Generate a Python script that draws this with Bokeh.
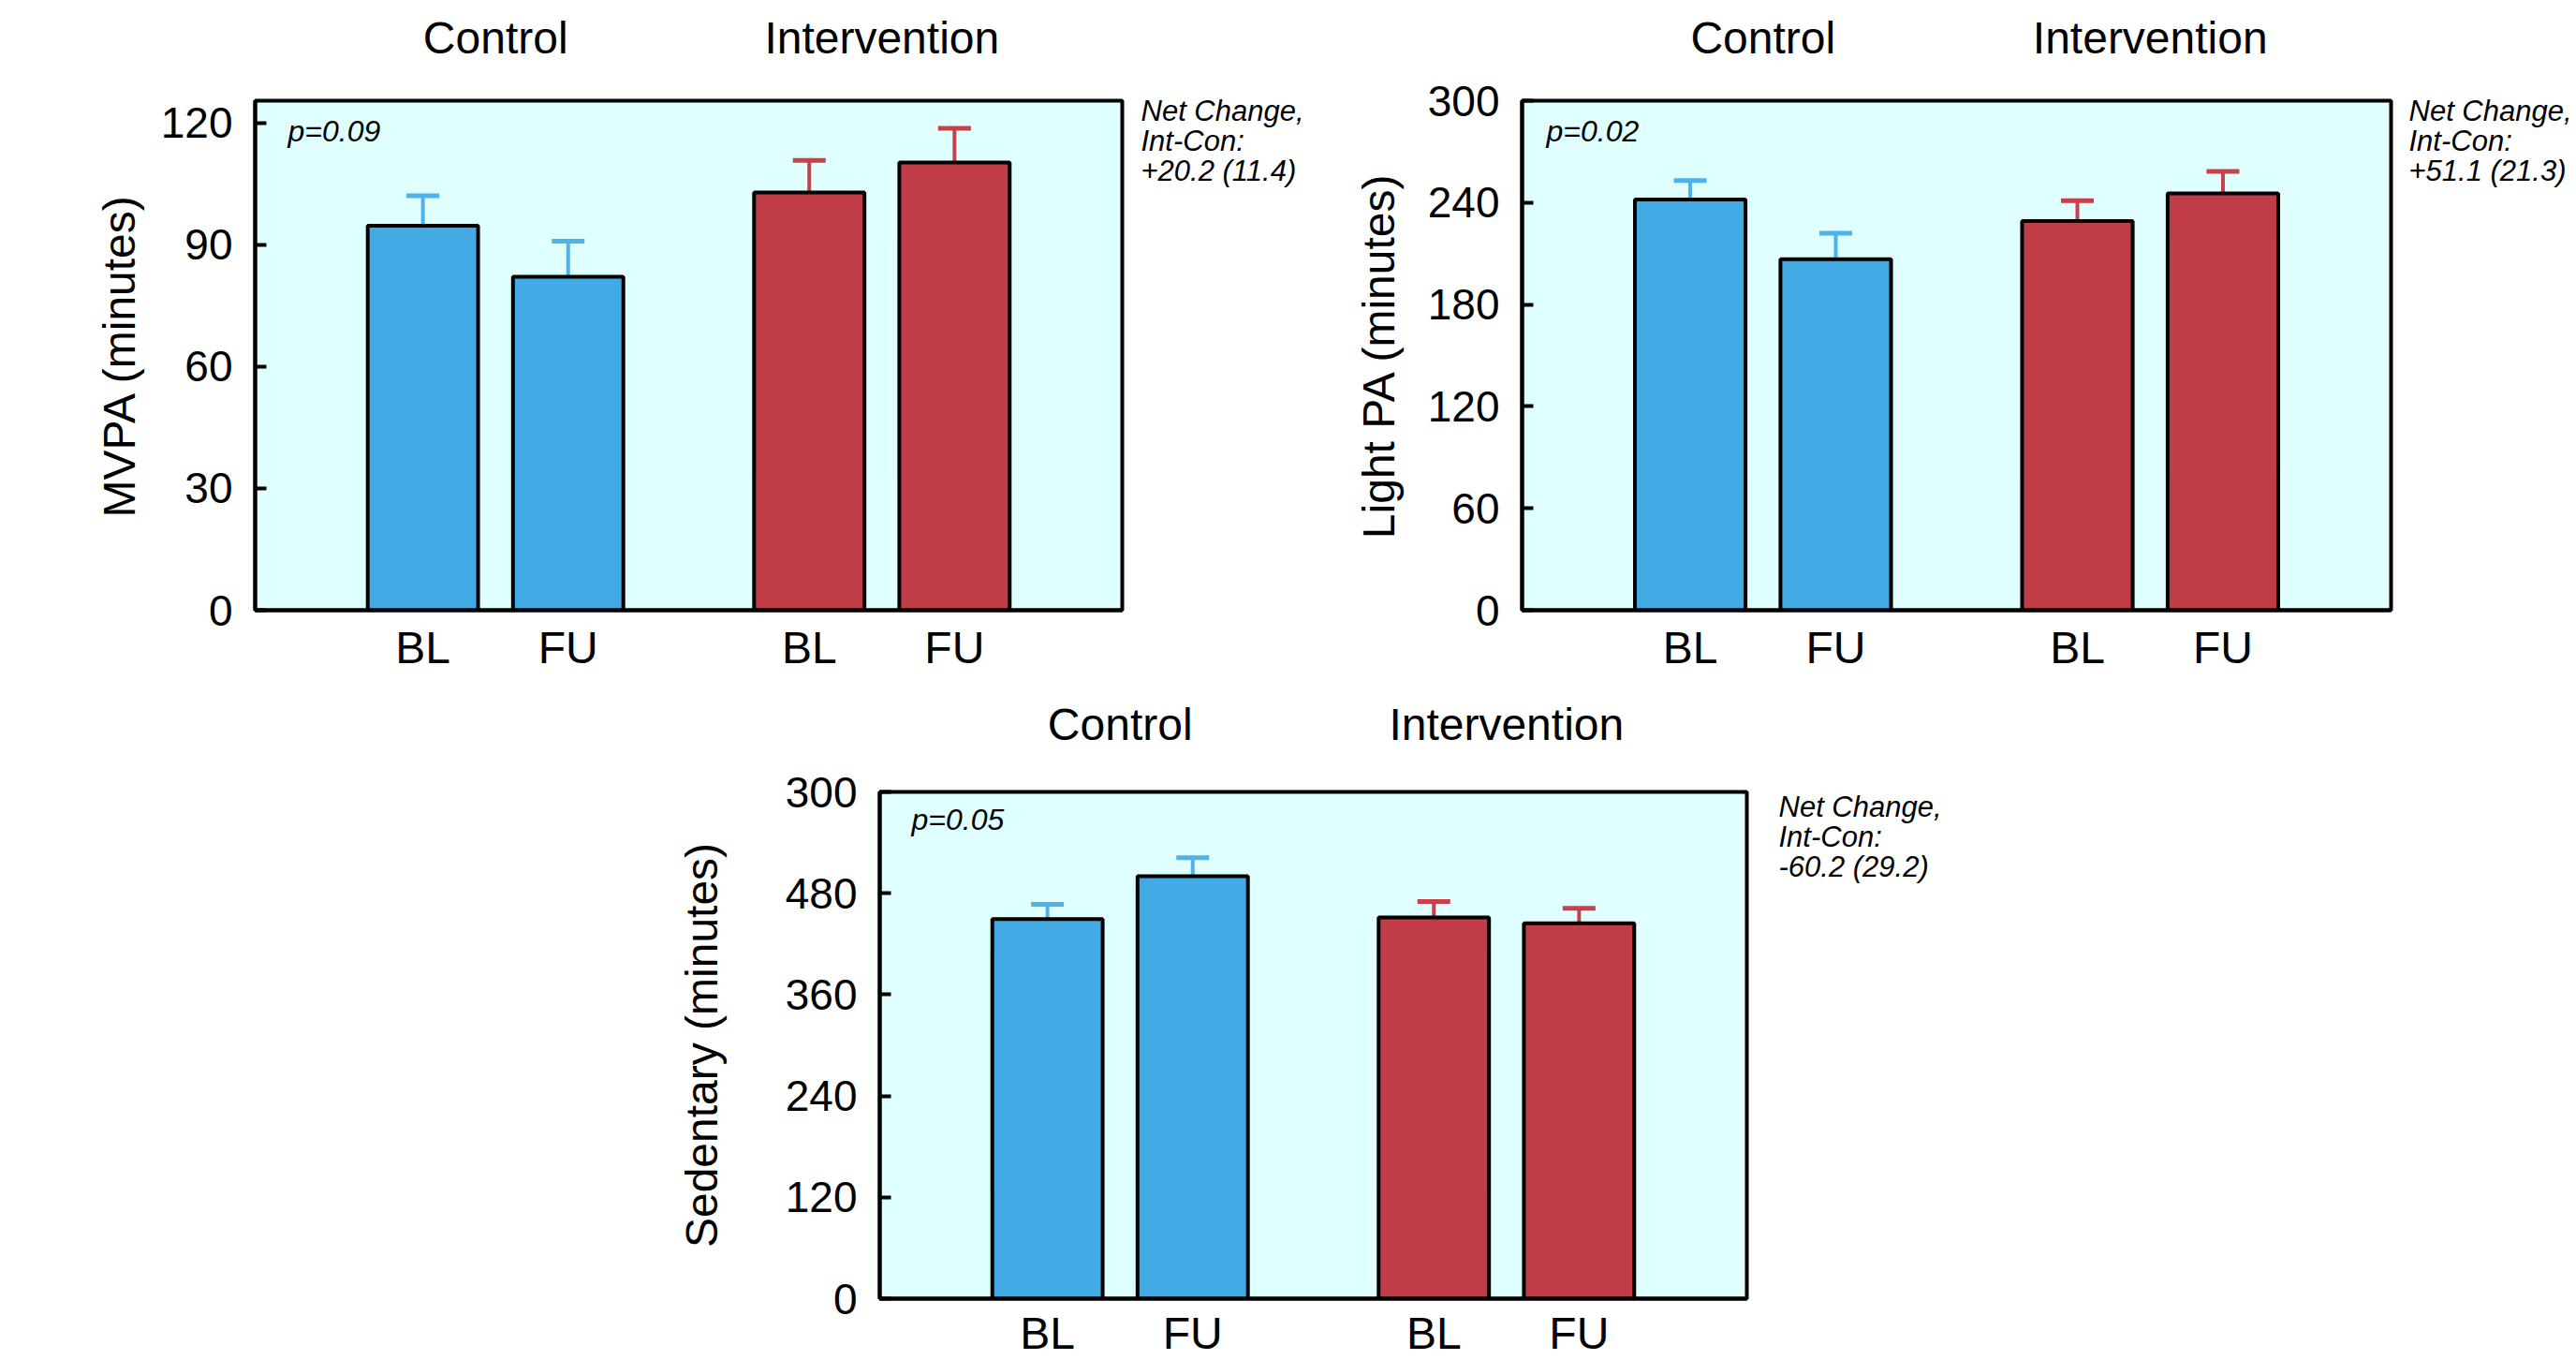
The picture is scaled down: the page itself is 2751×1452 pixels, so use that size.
from bokeh.plotting import figure
from bokeh.models import (FactorRange, Range1d, CategoricalAxis, LinearAxis, FixedTicker,
                          Label, Whisker, TeeHead, ColumnDataSource, Spacer)
from bokeh.layouts import column, row
from bokeh.embed import file_html
from bokeh.resources import INLINE

# ---------------- data ----------------
groups = ["Control", "Intervention"]
times = ["BL", "FU"]

mvpa_mean = [94.7, 82.1, 102.9, 110.3]
mvpa_err = [7.4, 8.8, 7.9, 8.4]
mvpa_ticks = [0, 30, 60, 90, 120]
mvpa_tick_labels = ["0", "30", "60", "90", "120"]

light_mean = [241.8, 206.7, 229.1, 245.4]
light_err = [11.2, 15.3, 12.0, 13.0]
light_ticks = [0, 60, 120, 180, 240, 300]
light_tick_labels = ["0", "60", "120", "180", "240", "300"]

sed_mean = [449.5, 500.3, 451.5, 444.4]
sed_err = [17.3, 21.9, 18.8, 17.8]
sed_ticks = [0, 120, 240, 360, 480, 600]
sed_tick_labels = ["0", "120", "240", "360", "480", "300"]

p_values = ["p=0.09", "p=0.02", "p=0.05"]
net_lines = [["Net Change,", "Int-Con:", "+20.2 (11.4)"],
             ["Net Change,", "Int-Con:", "+51.1 (21.3)"],
             ["Net Change,", "Int-Con:", "-60.2 (29.2)"]]

# ---------------- style ----------------
FONT = "Liberation Sans"
group_colors = ["#41AAE4", "#C03D47"]
err_colors = ["#4DB3EA", "#C8404A"]
BG = "#E0FFFF"


def make_panel(ylabel, means, errs, y_end, ticks, tick_labels, pval, net,
               w, h, bl, br, bt, bb, ylab_standoff, net_dx, p_dx,
               net_top_px, group_standoff, cat_standoff):
    factors = [(g, t) for g in groups for t in times]
    xr = FactorRange(*factors, group_padding=0.66, range_padding=0.655,
                     range_padding_units="absolute")
    p = figure(x_range=xr, y_range=Range1d(0, y_end), width=w, height=h,
               output_backend="svg", toolbar_location=None,
               min_border_left=bl, min_border_right=br,
               min_border_top=bt, min_border_bottom=bb)
    p.background_fill_color = BG
    p.border_fill_color = "white"
    p.outline_line_color = "black"
    p.outline_line_width = 4
    p.outline_line_alpha = 1
    p.xgrid.visible = False
    p.ygrid.visible = False

    colors = [group_colors[groups.index(f[0])] for f in factors]
    src = ColumnDataSource(dict(x=factors, top=means, color=colors))
    p.vbar(x="x", top="top", bottom=0, width=0.76, source=src,
           fill_color="color", line_color="black", line_width=4)

    for g, ec in zip(groups, err_colors):
        idx = [i for i, f in enumerate(factors) if f[0] == g]
        s = ColumnDataSource(dict(x=[factors[i] for i in idx],
                                  top=[means[i] for i in idx],
                                  upper=[means[i] + errs[i] for i in idx]))
        wsk = Whisker(source=s, base="x", lower="top", upper="upper",
                      dimension="height", line_color=ec, line_width=4,
                      upper_head=TeeHead(size=35, line_color=ec, line_width=5),
                      lower_head=None, level="underlay")
        p.add_layout(wsk)

    # y axis
    yax = p.yaxis[0]
    yax.ticker = FixedTicker(ticks=ticks)
    yax.major_label_overrides = {t: l for t, l in zip(ticks, tick_labels)}
    yax.minor_tick_line_color = None
    yax.major_tick_in = 12
    yax.major_tick_out = 0
    yax.major_tick_line_width = 4
    yax.major_tick_line_color = "black"
    yax.axis_line_width = 4
    yax.axis_line_color = "black"
    yax.major_label_text_font = FONT
    yax.major_label_text_font_size = "46px"
    yax.major_label_text_color = "black"
    yax.major_label_standoff = 24
    yax.axis_label = ylabel
    yax.axis_label_text_font = FONT
    yax.axis_label_text_font_size = "48px"
    yax.axis_label_text_font_style = "normal"
    yax.axis_label_text_color = "black"
    yax.axis_label_standoff = ylab_standoff

    # bottom categorical axis (BL / FU)
    xax = p.xaxis[0]
    xax.major_label_text_font = FONT
    xax.major_label_text_font_size = "48px"
    xax.major_label_text_color = "black"
    xax.major_label_standoff = cat_standoff
    xax.major_tick_line_color = None
    xax.minor_tick_line_color = None
    xax.axis_line_width = 4
    xax.axis_line_color = "black"
    xax.separator_line_color = None
    xax.group_text_font_size = "1px"
    xax.group_text_alpha = 0

    # top axis carrying the group names
    top = CategoricalAxis()
    top.major_label_text_font_size = "1px"
    top.major_label_text_alpha = 0
    top.major_label_standoff = group_standoff
    top.group_text_font = FONT
    top.group_text_font_size = "48px"
    top.group_text_font_style = "normal"
    top.group_text_color = "black"
    top.axis_line_color = None
    top.major_tick_line_color = None
    top.minor_tick_line_color = None
    top.separator_line_color = None
    p.add_layout(top, "above")

    fh = h - bt - bb
    per_px = y_end / fh
    # net change note, written as the labels of a right-hand axis
    net_y = [y_end - (net_top_px + k * 32) * per_px for k in range(len(net))]
    rax = LinearAxis(ticker=FixedTicker(ticks=net_y),
                     major_label_overrides={v: t for v, t in zip(net_y, net)})
    rax.axis_line_color = None
    rax.major_tick_line_color = None
    rax.minor_tick_line_color = None
    rax.major_label_standoff = net_dx
    rax.major_label_text_font = FONT
    rax.major_label_text_font_size = "31px"
    rax.major_label_text_font_style = "italic"
    rax.major_label_text_color = "black"
    p.add_layout(rax, "right")

    p.add_layout(Label(x=p_dx, y=fh - 32, x_units="screen", y_units="screen",
                       text=pval, text_font=FONT, text_font_size="32px",
                       text_font_style="italic", text_baseline="middle",
                       text_color="black"))
    return p


p1 = make_panel("MVPA (minutes)", mvpa_mean, mvpa_err, 125.5, mvpa_ticks,
                mvpa_tick_labels, p_values[0], net_lines[0],
                w=1405, h=720, bl=272, br=207, bt=107, bb=69,
                ylab_standoff=15, net_dx=14, p_dx=35, net_top_px=11,
                group_standoff=35, cat_standoff=7)
p2 = make_panel("Light PA (minutes)", light_mean, light_err, 300, light_ticks,
                light_tick_labels, p_values[1], net_lines[1],
                w=1346, h=720, bl=220, br=198, bt=107, bb=69,
                ylab_standoff=23, net_dx=13, p_dx=26, net_top_px=11,
                group_standoff=35, cat_standoff=7)
p3 = make_panel("Sedentary (minutes)", sed_mean, sed_err, 600, sed_ticks,
                sed_tick_labels, p_values[2], net_lines[2],
                w=1446, h=732, bl=260, br=260, bt=125, bb=63,
                ylab_standoff=60, net_dx=28, p_dx=34, net_top_px=16,
                group_standoff=40, cat_standoff=4)

layout = column(row(p1, p2), row(Spacer(width=679, height=732), p3))

with open("out.html", "w") as f:
    f.write(file_html(layout, INLINE))
